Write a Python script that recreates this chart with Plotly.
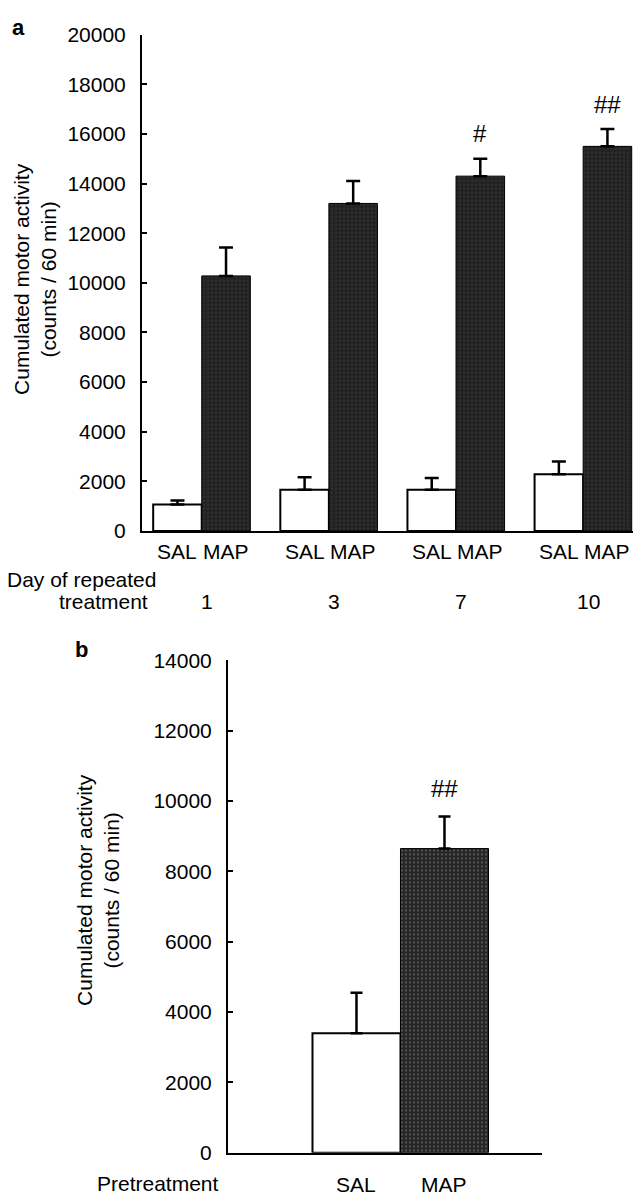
import plotly.graph_objects as go

# ---------------- data ----------------
days = ["1", "3", "7", "10"]
sal_a = [1070, 1660, 1660, 2290]
sal_a_err = [160, 510, 470, 510]
map_a = [10280, 13200, 14300, 15500]
map_a_err = [1140, 900, 700, 700]
sig_a = ["", "", "#", "##"]

pre_groups = ["SAL", "MAP"]
pre_vals = [3400, 8650]
pre_err = [1150, 910]
sig_b = ["", "##"]

a_ticks = list(range(0, 20001, 2000))
b_ticks = list(range(0, 14001, 2000))

# page body has an 8px default margin -> shrink figure and shift coordinates
OFF = 8
W, H = 641 - OFF, 1203 - OFF
FONT = "Liberation Sans, Arial, Helvetica, sans-serif"
FS = 21
BAR_GAP = 0.236
HALF = (1 - BAR_GAP) / 4  # offset of each bar centre from its group centre


def px(x):
    return (x - OFF) / W


def py(y):
    return 1 - (y - OFF) / H


fig = go.Figure()
xi = list(range(len(days)))

map_marker = dict(color="#262626", line=dict(color="black", width=1),
                  pattern=dict(shape=".", fgcolor="#6a6a6a", bgcolor="#222222",
                               size=4, solidity=0.12))

fig.add_trace(go.Bar(x=xi, y=sal_a, name="SAL", xaxis="x", yaxis="y",
                     marker=dict(color="white", line=dict(color="black", width=2)),
                     error_y=dict(type="data", array=sal_a_err, arrayminus=[0] * 4,
                                  symmetric=False, color="black", thickness=2.5, width=7)))
fig.add_trace(go.Bar(x=xi, y=map_a, name="MAP", xaxis="x", yaxis="y",
                     marker=map_marker,
                     error_y=dict(type="data", array=map_a_err, arrayminus=[0] * 4,
                                  symmetric=False, color="black", thickness=2.5, width=7)))

fig.add_trace(go.Bar(x=[0, 1], y=pre_vals, xaxis="x2", yaxis="y2", width=1.0,
                     marker=dict(color=["white", "#262626"],
                                 line=dict(color="black", width=[2, 1]),
                                 pattern=dict(shape=["", "."], fgcolor="#6a6a6a",
                                              bgcolor=["white", "#222222"], size=4,
                                              solidity=0.12)),
                     error_y=dict(type="data", array=pre_err, arrayminus=[0, 0],
                                  symmetric=False, color="black", thickness=2.5, width=6)))

axis_common = dict(showline=True, linecolor="black", linewidth=2, showgrid=False,
                   zeroline=False, mirror=False)
tickfont = dict(family=FONT, size=FS, color="black")

fig.update_layout(
    width=W, height=H, margin=dict(l=0, r=0, t=0, b=0),
    paper_bgcolor="white", plot_bgcolor="white", showlegend=False,
    barmode="group", bargap=BAR_GAP, bargroupgap=0,
    font=dict(family=FONT, size=FS, color="black"),
    xaxis=dict(axis_common, domain=[px(142), px(634)], range=[-0.47, 3.40],
               showticklabels=False, ticks="", anchor="y"),
    yaxis=dict(axis_common, domain=[py(529), py(23)], range=[0, 20000],
               tickvals=a_ticks, tickformat="d", ticks="inside", ticklen=5,
               tickwidth=2, tickcolor="black", tickfont=tickfont,
               ticklabelstandoff=10, anchor="x"),
    xaxis2=dict(axis_common, domain=[px(228), px(542)], range=[-1.46, 2.108],
                showticklabels=False, ticks="", anchor="y2"),
    yaxis2=dict(axis_common, domain=[py(1163), py(661)], range=[0, 14000],
                tickvals=b_ticks, tickformat="d", ticks="inside", ticklen=5,
                tickwidth=2, tickcolor="black", tickfont=tickfont,
                ticklabelstandoff=10, anchor="x2"),
)

ann = []


def txt(text, x, y, xref="paper", yref="paper", size=FS, xanchor="center",
        bold=False, angle=0, yshift=0):
    ann.append(dict(text=f"<b>{text}</b>" if bold else text, x=x, y=y, xref=xref,
                    yref=yref, showarrow=False, xanchor=xanchor, yanchor="middle",
                    textangle=angle, yshift=yshift,
                    font=dict(family=FONT, size=size, color="black")))


# panel labels
txt("a", px(10), py(16), xanchor="left", bold=True, size=22)
txt("b", px(73), py(650), xanchor="left", bold=True, size=22)

# y-axis titles
txt("Cumulated motor activity<br>(counts / 60 min)", px(35), py(272), angle=-90)
txt("Cumulated motor activity<br>(counts / 60 min)", px(98), py(895), angle=-90)

# top panel category labels
for i, d in enumerate(days):
    txt("SAL", i - HALF, py(550), xref="x")
    txt("MAP", i + HALF, py(550), xref="x")
    txt(d, i + 0.04, py(601), xref="x")
    if sig_a[i]:
        txt(sig_a[i], i + HALF, map_a[i] + map_a_err[i], xref="x", yref="y",
            size=24, yshift=25)
txt("Day of repeated", px(158), py(578), xanchor="right")
txt("treatment", px(150), py(601), xanchor="right")

# bottom panel labels
for i, g in enumerate(pre_groups):
    txt(g, i, py(1195), xref="x2")
    if sig_b[i]:
        txt(sig_b[i], i, pre_vals[i] + pre_err[i], xref="x2", yref="y2",
            size=24, yshift=28)
txt("Pretreatment", px(221), py(1194), xanchor="right")

fig.update_layout(annotations=ann)
fig.write_html("out.html")
